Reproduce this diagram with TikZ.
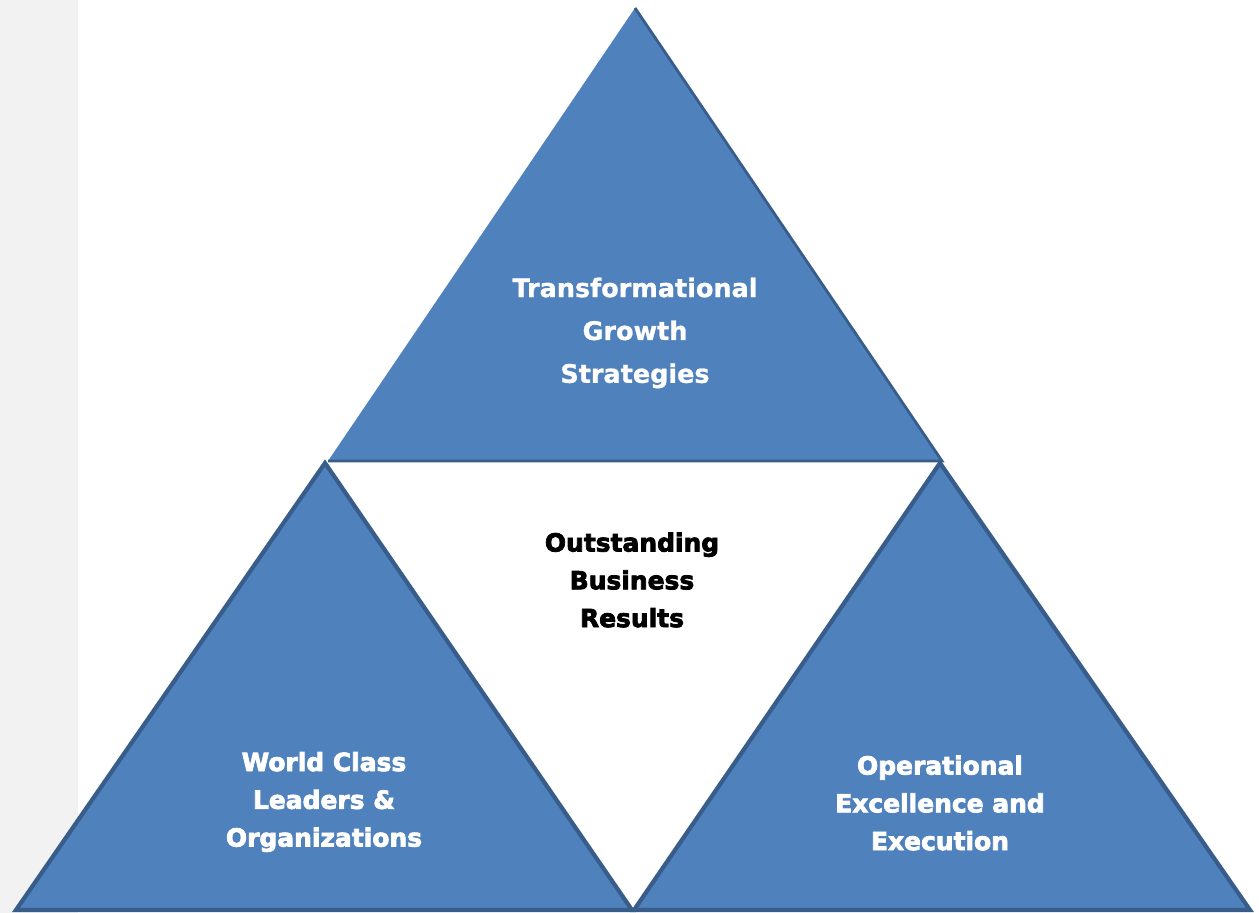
\documentclass[tikz,border=0pt]{standalone}
\usepackage{fontspec}
\setmainfont{DejaVu Sans}
\newfontfamily\heavyfont[BoldFeatures={FakeBold=3}]{DejaVu Sans}
\newfontfamily\wideboldfont[BoldFeatures={FakeBold=1}]{DejaVu Sans}
\usepackage{tikz}

\definecolor{pyrblue}{HTML}{4F81BD}
\definecolor{pyredge}{HTML}{385D8A}
\definecolor{sidegray}{HTML}{F2F2F2}

\begin{document}
\begin{tikzpicture}[x=0.02cm, y=-0.02cm]
\tikzset{piece/.style={fill=pyrblue, draw=pyredge, line width=2.4pt, line join=miter},
         label/.style={align=center, font=\wideboldfont\bfseries\fontsize{14.5}{24.4}\selectfont, text=white},
         heavy/.style={align=center, font=\heavyfont\bfseries\fontsize{14.2}{21.5}\selectfont}}
\useasboundingbox (0,0) rectangle (1259,913);
\fill[sidegray] (0,0) rectangle (78,913);
% corners of the three pieces
\coordinate (topapex) at (635,8);
\coordinate (topleft) at (328,461);
\coordinate (topright) at (942,461);
\coordinate (lapex) at (325,463);
\coordinate (lleft) at (16,910);
\coordinate (lright) at (632,910);
\coordinate (rapex) at (940,463);
\coordinate (rleft) at (634,910);
\coordinate (rright) at (1250,910);
\fill[pyrblue] (topapex) -- (topleft) -- (topright) -- cycle;
\draw[pyredge, line width=1.6pt, line join=miter] (topleft) -- (topright) -- (topapex);
\draw[piece] (lapex) -- (lleft) -- (lright) -- cycle;
\draw[piece] (rapex) -- (rleft) -- (rright) -- cycle;
% texts
\node[label] (growth) at (635,333) {Transformational\\Growth\\Strategies};
\node[heavy] (results) at (632,580) {Outstanding\\Business\\Results};
\node[heavy, text=white] (leaders) at (324,802) {World Class\\Leaders \&\\Organizations};
\node[heavy, text=white] (excellence) at (940,803) {Operational\\Excellence and\\Execution};
\end{tikzpicture}
\end{document}
